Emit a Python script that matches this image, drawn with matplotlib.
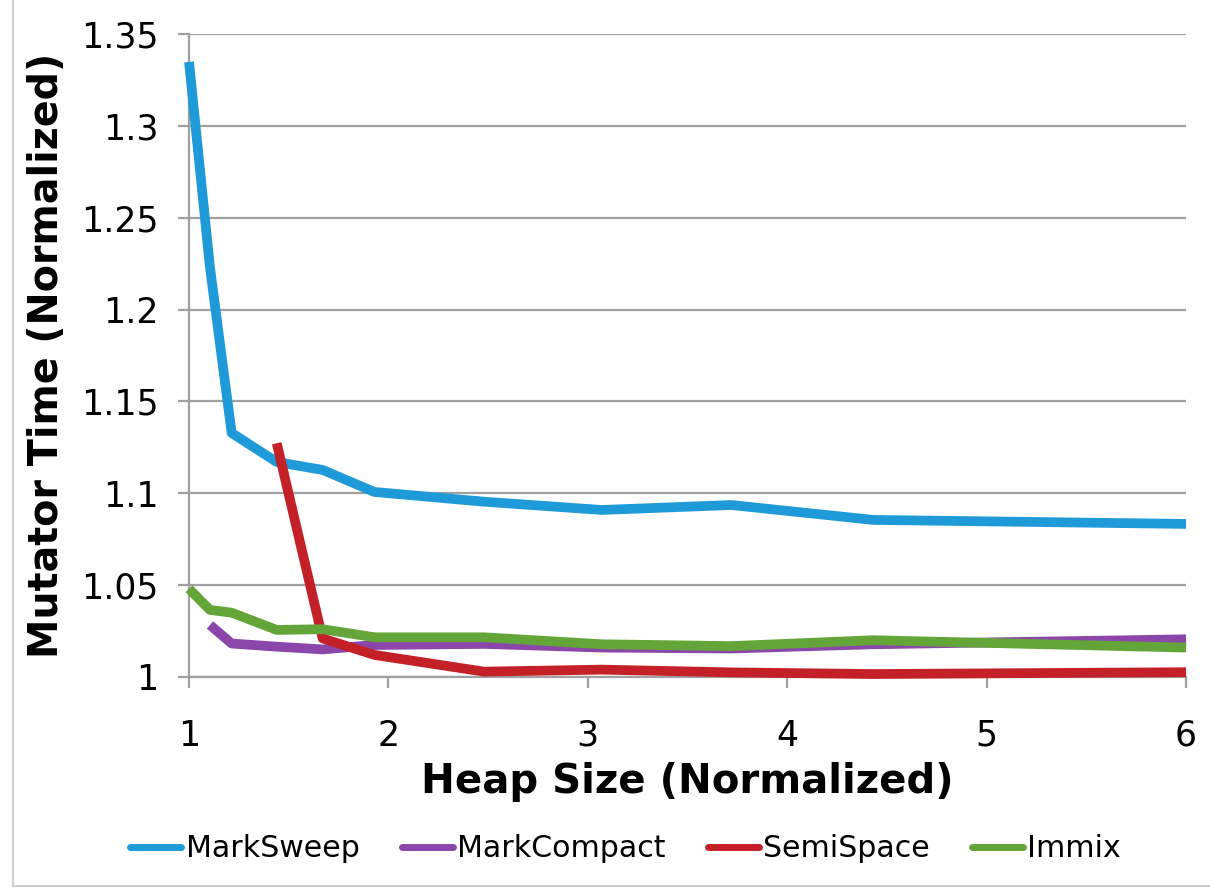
import numpy as np
import matplotlib.pyplot as plt
from matplotlib.lines import Line2D

# heap sizes (normalized) shared by all collectors
heap = [1.0, 1.105, 1.214, 1.44, 1.67, 1.93, 2.48, 3.07, 3.72, 4.43, 6.0]

# mutator time (normalized), None where no data
mark_sweep = [1.3348, 1.223, 1.1328, 1.117, 1.1127, 1.1007, 1.0954, 1.0909, 1.0936, 1.0855, 1.0833]
mark_compact = [None, 1.0283, 1.0182, 1.0165, 1.0150, 1.0174, 1.0180, 1.0160, 1.0155, 1.0178, 1.0205]
semi_space = [None, None, None, 1.1272, 1.0210, 1.0120, 1.0029, 1.0040, 1.0025, 1.0016, 1.0026]
immix = [1.0480, 1.0365, 1.0350, 1.0256, 1.0260, 1.0216, 1.0216, 1.0178, 1.0168, 1.0200, 1.0160]

names = ['MarkSweep', 'MarkCompact', 'SemiSpace', 'Immix']
colors = ['#1f9ad8', '#8a47a9', '#c42027', '#63a538']
series = [mark_sweep, mark_compact, semi_space, immix]

fig = plt.figure(figsize=(12.1, 8.89), dpi=100)
ax = fig.add_axes([0.1562, 0.2385, 0.824, 0.7233])

for name, col, vals in zip(names, colors, series):
    xs = [h for h, v in zip(heap, vals) if v is not None]
    ys = [v for v in vals if v is not None]
    ax.plot(xs, ys, color=col, lw=7, solid_capstyle='butt', solid_joinstyle='round',
            label=name, clip_on=False, zorder=3)

grid_c = '#a0a0a0'
ax.set_xlim(1, 6)
ax.set_ylim(1, 1.35)
ax.set_xticks([1, 2, 3, 4, 5, 6])
ax.set_yticks(np.arange(1.0, 1.351, 0.05))
ax.set_yticklabels(['1', '1.05', '1.1', '1.15', '1.2', '1.25', '1.3', '1.35'])
ax.yaxis.grid(True, color=grid_c, lw=1.6)
ax.set_axisbelow(True)
for s in ['top', 'right']:
    ax.spines[s].set_visible(False)
for s in ['left', 'bottom']:
    ax.spines[s].set_color(grid_c)
    ax.spines[s].set_linewidth(1.6)
ax.tick_params(axis='x', length=8, width=1.6, color=grid_c, labelsize=25, pad=22)
ax.tick_params(axis='y', length=8, width=1.6, color=grid_c, labelsize=25, pad=14)

ax.set_xlabel('Heap Size (Normalized)', fontsize=29, fontweight='bold', labelpad=7)
ax.set_ylabel('Mutator Time (Normalized)', fontsize=28.5, fontweight='bold', labelpad=10)

handles = [Line2D([], [], color=c, lw=5, solid_capstyle='round') for c in colors]
fig.legend(handles, names, loc='center', bbox_to_anchor=(0.517, 0.045), ncol=4,
           frameon=False, fontsize=21.6, handlelength=1.7, handletextpad=0.15,
           columnspacing=1.4)

# light frame on left and bottom edges
fig.add_artist(Line2D([0.011, 0.011], [0.003, 1.0], color='#d0d0d0', lw=1.5))
fig.add_artist(Line2D([0.011, 1.0], [0.003, 0.003], color='#d0d0d0', lw=1.5))

fig.savefig('out.png', dpi=100)
